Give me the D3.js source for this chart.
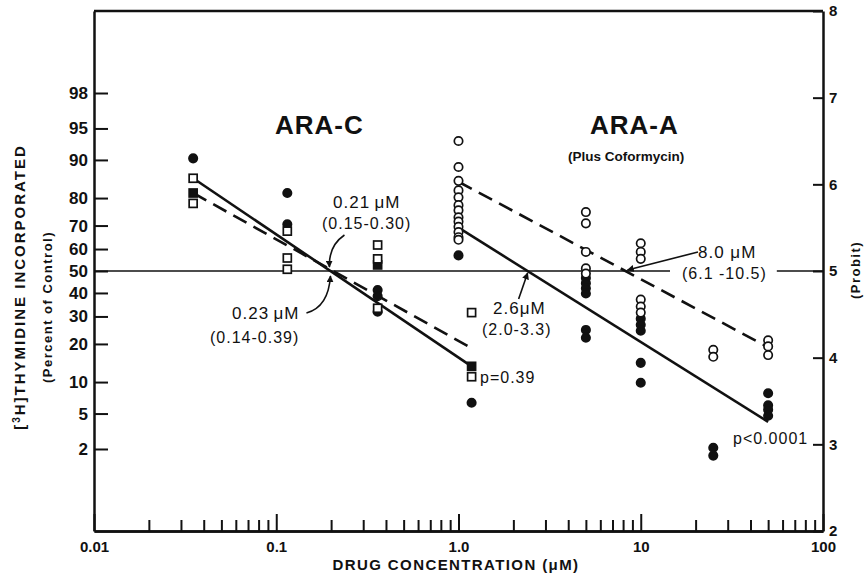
<!DOCTYPE html>
<html>
<head>
<meta charset="utf-8">
<script src="https://cdn.jsdelivr.net/npm/d3@7"></script>
<style>
body { margin: 0; background: #fff; }
text { font-family: "Liberation Sans", Arial, sans-serif; fill: #111; }
.axis .domain { stroke: #111; stroke-width: 2.5; }
.axis line { stroke: #111; stroke-width: 2; }
.axis text { font-weight: bold; fill: #111; font-family: "Liberation Sans", Arial, sans-serif; }
.note { font-size: 16px; letter-spacing: 1px; }
</style>
</head>
<body>
<svg id="chart" width="866" height="578"></svg>
<script>
// x values in uM, y values in probit units (right axis)
const araCDoses = [0.035, 0.115, 0.36, 1.18]
const araCOpenSq = [[6.07, 5.78], [5.46, 5.15, 5.02], [5.30, 5.14, 4.57], [4.52, 3.78]]
const araCFilledSq = [[5.90], [], [5.07], [3.90]]
const araCFilledCirc = [[6.30], [5.90, 5.54], [4.78, 4.71, 4.53], [3.48]]

const araADoses = [1.0, 5, 10, 25, 50]
const araAOpen = [[6.50, 6.20, 6.04, 5.93, 5.85, 5.76, 5.70, 5.62, 5.57, 5.51, 5.45, 5.39, 5.36],
                  [5.68, 5.55, 5.22, 5.03, 4.97],
                  [5.32, 5.22, 5.14, 4.67, 4.59, 4.52],
                  [4.09, 4.01],
                  [4.20, 4.13, 4.03]]
const araAFilled = [[5.18],
                    [4.92, 4.86, 4.80, 4.74, 4.32, 4.23],
                    [4.45, 4.38, 4.31, 3.94, 3.71],
                    [2.96, 2.87],
                    [3.59, 3.45, 3.40, 3.33]]

// fitted lines, [dose, probit] end points
const araCSolid = [[0.035, 6.07], [1.18, 3.90]]
const araCDashed = [[0.035, 5.90], [1.18, 4.11]]
const araASolid = [[1.0, 5.50], [50, 3.26]]
const araADashed = [[1.0, 6.03], [50, 4.12]]

const percentTicks = [98, 95, 90, 80, 70, 60, 50, 40, 30, 20, 10, 5, 2]
const probitTicks = [2, 3, 4, 5, 6, 7, 8]
const xTicks = [0.01, 0.1, 1, 10, 100]
const xTickLabels = ["0.01", "0.1", "1.0", "10", "100"]

// inverse normal cdf (Acklam)
function invNorm(p) {
    const a = [-3.969683028665376e+01, 2.209460984245205e+02, -2.759285104469687e+02, 1.383577518672690e+02, -3.066479806614716e+01, 2.506628277459239e+00]
    const b = [-5.447609879822406e+01, 1.615858368580409e+02, -1.556989798598866e+02, 6.680131188771972e+01, -1.328068155288572e+01]
    const c = [-7.784894002430293e-03, -3.223964580411365e-01, -2.400758277161838e+00, -2.549732539343734e+00, 4.374664141464968e+00, 2.938163982698783e+00]
    const d = [7.784695709041462e-03, 3.224671290700398e-01, 2.445134137142996e+00, 3.754408661907416e+00]
    const pl = 0.02425
    let q, r
    if (p < pl) {
        q = Math.sqrt(-2 * Math.log(p))
        return (((((c[0]*q+c[1])*q+c[2])*q+c[3])*q+c[4])*q+c[5]) / ((((d[0]*q+d[1])*q+d[2])*q+d[3])*q+1)
    } else if (p <= 1 - pl) {
        q = p - 0.5; r = q * q
        return (((((a[0]*r+a[1])*r+a[2])*r+a[3])*r+a[4])*r+a[5])*q / (((((b[0]*r+b[1])*r+b[2])*r+b[3])*r+b[4])*r+1)
    }
    q = Math.sqrt(-2 * Math.log(1 - p))
    return -(((((c[0]*q+c[1])*q+c[2])*q+c[3])*q+c[4])*q+c[5]) / ((((d[0]*q+d[1])*q+d[2])*q+d[3])*q+1)
}
const probit = pct => 5 + invNorm(pct / 100)

const plotL = 94, plotR = 823, plotT = 11, plotB = 531
let xScale = d3.scaleLog().domain([0.01, 100]).range([plotL, plotR])
let yScale = d3.scaleLinear().domain([2, 8]).range([plotB, plotT])

let svg = d3.select("#chart")

svg.append("defs").append("marker")
    .attr("id", "head").attr("viewBox", "0 0 10 10")
    .attr("refX", 9).attr("refY", 5)
    .attr("markerWidth", 7).attr("markerHeight", 7)
    .attr("markerUnits", "userSpaceOnUse")
    .attr("orient", "auto")
    .append("path").attr("d", "M0,0 L10,5 L0,10 Z").attr("fill", "#111")

// annotation texts (drawn first so the 50% line can skip the 8.0 label)
function note(x, y, str, size = 16) {
    return svg.append("text").attr("class", "note").attr("x", x).attr("y", y)
        .style("font-size", size + "px").text(str)
}
note(333, 208, "0.21\u2009\u03bcM", 17)
note(322, 229, "(0.15-0.30)")
note(232, 319, "0.23\u2009\u03bcM", 17)
note(210, 343, "(0.14-0.39)")
note(493, 314, "2.6\u03bcM", 17)
note(482, 335, "(2.0-3.3)")
note(480, 383, "p=0.39")
note(698, 258, "8.0 \u03bcM", 17)
let lab8 = note(682, 279, "(6.1 -10.5)")
note(733, 444, "p<0.0001")

svg.append("text").attr("x", 275).attr("y", 134).style("letter-spacing", "1px")
    .style("font-size", "26px").style("font-weight", "bold").text("ARA-C")
svg.append("text").attr("x", 590).attr("y", 134).style("letter-spacing", "1px")
    .style("font-size", "26px").style("font-weight", "bold").text("ARA-A")
svg.append("text").attr("x", 568).attr("y", 161)
    .style("font-size", "13.5px").style("font-weight", "bold").text("(Plus Coformycin)")

// 50 percent line, broken around the 8.0 label
let bb = lab8.node().getBBox()
let y50 = yScale(5)
svg.append("line").attr("x1", plotL).attr("x2", bb.x - 12).attr("y1", y50).attr("y2", y50)
    .attr("stroke", "#111").attr("stroke-width", 1.5)
svg.append("line").attr("x1", bb.x + bb.width + 10).attr("x2", plotR).attr("y1", y50).attr("y2", y50)
    .attr("stroke", "#111").attr("stroke-width", 1.5)

// fitted lines
let fit = d3.line().x(d => xScale(d[0])).y(d => yScale(d[1]))
function drawFit(pts, dashed) {
    svg.append("path").attr("d", fit(pts)).attr("fill", "none")
        .attr("stroke", "#111").attr("stroke-width", 2.6)
        .attr("stroke-dasharray", dashed ? "15,8" : null)
}
drawFit(araCSolid, false)
drawFit(araCDashed, true)
drawFit(araASolid, false)
drawFit(araADashed, true)

// where a fitted line meets probit 5
function cross(pts) {
    let l1 = Math.log10(pts[0][0]), l2 = Math.log10(pts[1][0])
    let t = (pts[0][1] - 5) / (pts[0][1] - pts[1][1])
    return [xScale(Math.pow(10, l1 + t * (l2 - l1))), y50]
}

// arrows
let cC = cross(araCSolid), cA = cross(araASolid), cAd = cross(araADashed)
function arrow(d) {
    svg.append("path").attr("d", d).attr("fill", "none").attr("stroke", "#111")
        .attr("stroke-width", 1.6).attr("marker-end", "url(#head)")
}
arrow(`M${cC[0] + 14},${cC[1] - 36} Q${cC[0] - 2},${cC[1] - 25} ${cC[0] - 1},${cC[1] - 4}`)
arrow(`M${cC[0] - 24},${cC[1] + 42} Q${cC[0] - 2},${cC[1] + 36} ${cC[0]},${cC[1] + 5}`)
arrow(`M${cA[0] - 9},${cA[1] + 28} L${cA[0]},${cA[1] + 2}`)
arrow(`M${698},${252} L${cAd[0] + 2},${cAd[1] - 1}`)

// points
function circles(doses, groups, filled) {
    doses.forEach((dose, i) => {
        svg.selectAll(null).data(groups[i]).enter().append("circle")
            .attr("cx", xScale(dose)).attr("cy", d => yScale(d)).attr("r", 4.2)
            .attr("fill", filled ? "#111" : "#fff")
            .attr("stroke", "#111").attr("stroke-width", 1.7)
    })
}
function squares(doses, groups, filled) {
    doses.forEach((dose, i) => {
        svg.selectAll(null).data(groups[i]).enter().append("rect")
            .attr("x", xScale(dose) - 4).attr("y", d => yScale(d) - 4)
            .attr("width", 8).attr("height", 8)
            .attr("fill", filled ? "#111" : "#fff")
            .attr("stroke", "#111").attr("stroke-width", 1.7)
    })
}
circles(araCDoses, araCFilledCirc, true)
squares(araCDoses, araCFilledSq, true)
squares(araCDoses, araCOpenSq, false)
circles(araADoses, araAFilled, true)
circles(araADoses, araAOpen, false)

// axes
let minor = []
for (let e = -2; e < 2; e++) for (let k = 2; k <= 9; k++) minor.push(k * Math.pow(10, e))

svg.append("g").attr("class", "axis").attr("transform", `translate(0,${plotB})`)
    .call(d3.axisBottom(xScale).tickValues(minor).tickSizeInner(-11).tickSizeOuter(0).tickFormat(""))
svg.append("g").attr("class", "axis").attr("transform", `translate(0,${plotB})`)
    .call(d3.axisBottom(xScale).tickValues(xTicks).tickSizeInner(-17).tickSizeOuter(0).tickPadding(10)
        .tickFormat((d, i) => xTickLabels[i]))
    .selectAll("text").style("font-size", "15px")

svg.append("g").attr("class", "axis").attr("transform", `translate(${plotL},0)`)
    .call(d3.axisLeft(yScale).tickValues(percentTicks.map(probit)).tickSizeInner(-14).tickSizeOuter(0).tickPadding(6)
        .tickFormat((d, i) => percentTicks[i]))
    .selectAll("text").style("font-size", "17px")

svg.append("g").attr("class", "axis").attr("transform", `translate(${plotR},0)`)
    .call(d3.axisRight(yScale).tickValues(probitTicks).tickSizeInner(-10).tickSizeOuter(0).tickPadding(6)
        .tickFormat(d3.format("d")))
    .selectAll("text").style("font-size", "15px")

svg.append("line").attr("x1", plotL).attr("x2", plotR).attr("y1", plotT).attr("y2", plotT)
    .attr("stroke", "#111").attr("stroke-width", 2.5)

// axis titles
svg.append("text").attr("x", 456).attr("y", 570).attr("text-anchor", "middle")
    .style("font-size", "15px").style("font-weight", "bold").style("letter-spacing", "1.4px")
    .text("DRUG CONCENTRATION (\u03bcM)")

let yt = svg.append("text").attr("transform", "translate(25,287) rotate(-90)").attr("text-anchor", "middle")
    .style("font-size", "15px").style("font-weight", "bold").style("letter-spacing", "2px")
yt.append("tspan").text("[")
yt.append("tspan").attr("baseline-shift", "super").style("font-size", "10px").text("3")
yt.append("tspan").text("H]THYMIDINE INCORPORATED")

svg.append("text").attr("transform", "translate(52,307) rotate(-90)").attr("text-anchor", "middle")
    .style("font-size", "13px").style("font-weight", "bold").style("letter-spacing", "1.5px")
    .text("(Percent of Control)")

svg.append("text").attr("transform", "translate(860,270) rotate(-90)").attr("text-anchor", "middle")
    .style("font-size", "13px").style("font-weight", "bold").style("letter-spacing", "1.5px")
    .text("(Probit)")
</script>
</body>
</html>
